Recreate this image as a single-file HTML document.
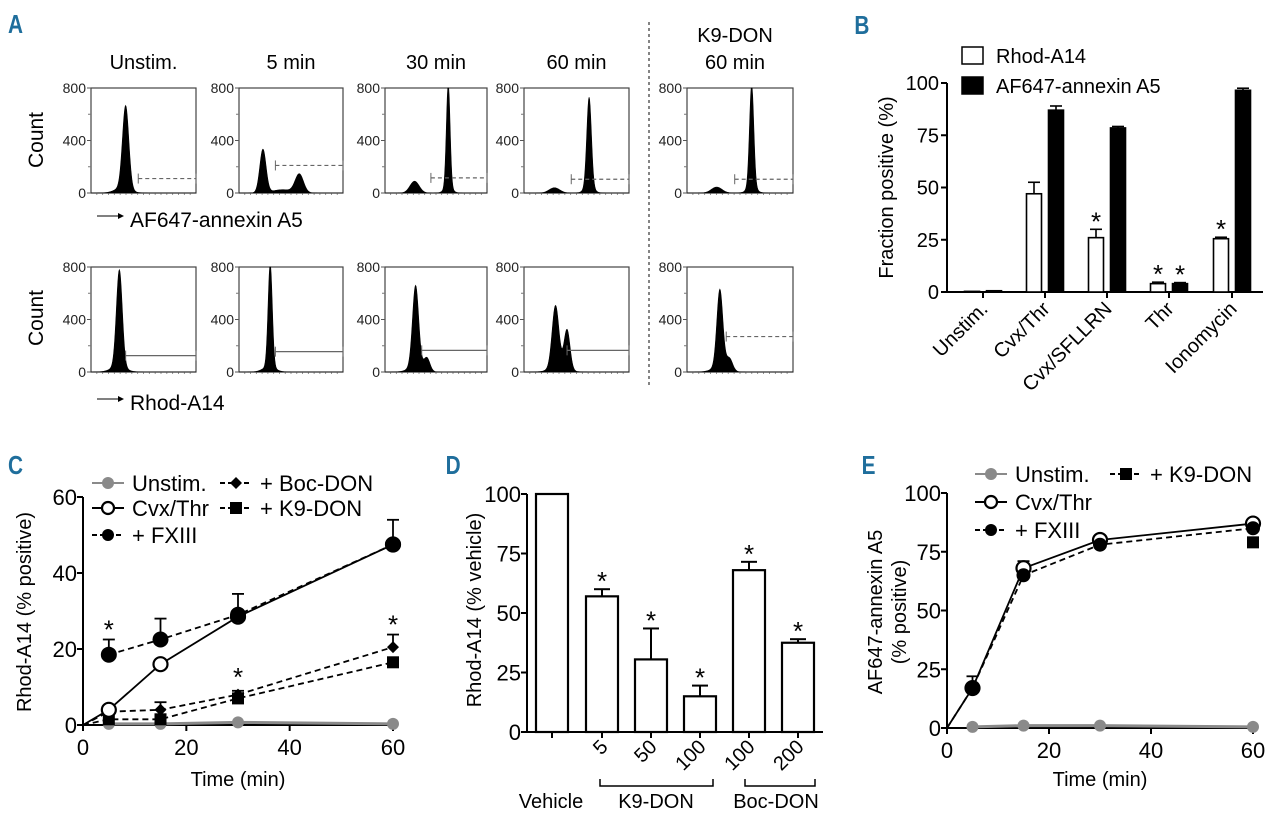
<!DOCTYPE html>
<html><head><meta charset="utf-8"><style>
body{margin:0;background:#fff;}
svg{display:block;font-family:"Liberation Sans",Arial,sans-serif;}
.pl{font-family:"Liberation Sans",sans-serif;font-weight:bold;fill:#1f6e9c;font-size:26px;}
</style></head><body>
<svg id="fig" width="1280" height="827" viewBox="0 0 1280 827" xmlns="http://www.w3.org/2000/svg">
<text class="pl" x="8" y="33" transform="scale(0.8,1) translate(2,0)">A</text>
<text class="pl" x="1068" y="34" transform="scale(0.8,1)">B</text>
<text class="pl" x="10" y="474" transform="scale(0.8,1)">C</text>
<text class="pl" x="557" y="474" transform="scale(0.8,1)">D</text>
<text class="pl" x="1077" y="474" transform="scale(0.8,1)">E</text>
<g id="gA"></g>
<g id="gB"></g>
<g id="gC"></g>
<g id="gD"></g>
<g id="gE"></g>
</svg>
<script>
// ---------- Panel A data (histogram peaks: [position fraction, count, width]) ----------
const histTitles = ["Unstim.","5 min","30 min","60 min"];
const histRow1Peaks = [
  [[0.33,630,0.03],[0.30,40,0.07]],
  [[0.23,330,0.03],[0.58,140,0.04],[0.42,25,0.1]],
  [[0.29,90,0.045],[0.62,800,0.018],[0.62,40,0.04]],
  [[0.29,40,0.05],[0.62,690,0.022],[0.62,40,0.045]],
  [[0.28,45,0.05],[0.61,790,0.02],[0.61,40,0.045]]
];
const histRow2Peaks = [
  [[0.27,740,0.028],[0.26,40,0.07]],
  [[0.30,790,0.02],[0.29,40,0.06]],
  [[0.30,620,0.03],[0.41,100,0.03],[0.30,40,0.07]],
  [[0.30,470,0.032],[0.41,300,0.028],[0.33,40,0.08]],
  [[0.31,590,0.028],[0.40,90,0.03],[0.31,40,0.07]]
];
const histRow1Gate = [[0.45,110],[0.35,210],[0.45,115],[0.45,105],[0.45,105]];
const histRow2Gate = [[0.33,125],[0.35,155],[0.36,165],[0.41,165],[0.37,270]];
const histYTicks = [0,400,800];

// ---------- Panel B data ----------
const bCats = ["Unstim.","Cvx/Thr","Cvx/SFLLRN","Thr","Ionomycin"];
const bRhod = [0.3,47,26,4,25.5];
const bRhodErr = [0,5.5,4,0.7,0.7];
const bAnx = [0.6,87,78.5,4,96.5];
const bAnxErr = [0,2,0.7,0.5,1];
const bRhodStar = [false,false,true,true,true];
const bAnxStar = [false,false,false,true,false];
const bTicks = [0,25,50,75,100];

// ---------- Panel C data ----------
const cTimes = [0,5,15,30,60];
const cUnstim = [null,0.3,0.3,0.7,0.3];
const cCvx = [0,4,16,28.5,47.5];
const cFXIII = [null,18.5,22.5,29,47.5];
const cFXIIIErr = [0,4,5.5,5.5,6.5];
const cBoc = [0,3.5,4,8,20.5];
const cBocErr = [0,0.5,2,1,3.3];
const cK9 = [0,1.5,1.5,7,16.5];
const cXTicks = [0,20,40,60];
const cYTicks = [0,20,40,60];

// ---------- Panel D data ----------
const dCats = ["","5","50","100","100","200"];
const dVals = [100,57,30.5,15,68,37.5];
const dErr = [0,3,13,4.5,3.5,1.5];
const dStar = [false,true,true,true,true,true];
const dTicks = [0,25,50,75,100];

// ---------- Panel E data ----------
const eTimes = [0,5,15,30,60];
const eUnstim = [null,0.5,1,1,0.5];
const eCvx = [0,17,68,80,87];
const eCvxErr = [0,5,3,1,1];
const eFXIII = [0,17,65,78,85];
const eK9 = [null,null,null,null,79];
const eXTicks = [0,20,40,60];
const eYTicks = [0,25,50,75,100];

const NS="http://www.w3.org/2000/svg";
function mk(parent,tag,attrs,txt){const e=document.createElementNS(NS,tag);for(const k in attrs)e.setAttribute(k,attrs[k]);if(txt!==undefined)e.textContent=txt;parent.appendChild(e);return e;}

// ===== Panel A =====
const gA=document.getElementById('gA');
const colX=[91,239,385,524,687];
const colW=[105,104,102,105,106];
const rowTop=[88,267], rowBot=[193,372];
histTitles.forEach((t,i)=>{
  const tt=mk(gA,'text',{x:colX[i]+colW[i]/2,y:69,'font-size':20,'text-anchor':'middle'},t);
  
  
});
{const t1=mk(gA,'text',{x:735,y:42,'font-size':20,'text-anchor':'middle'},'K9-DON');

const t2=mk(gA,'text',{x:735,y:69,'font-size':20,'text-anchor':'middle'},'60 min');
}
{const dl=mk(gA,'line',{x1:649,y1:22,x2:649,y2:385,stroke:'#333','stroke-width':1.2,'stroke-dasharray':'3,3'});
}
[140,318].forEach(cy=>{const c=mk(gA,'text',{x:0,y:0,'font-size':21,'text-anchor':'middle',transform:`translate(43,${cy}) rotate(-90)`},'Count');
});
[[216,'AF647-annexin A5',227],[399,'Rhod-A14',410]].forEach(([ay,lab,by])=>{
  const a=mk(gA,'line',{x1:97,y1:ay,x2:118,y2:ay,stroke:'#000','stroke-width':1});
  
  const p=mk(gA,'path',{d:`M118 ${ay-3} L124 ${ay} L118 ${ay+3}Z`,fill:'#000'});
  
  const t=mk(gA,'text',{x:130,y:by,'font-size':21},lab);
  
});
function hist(r,i,peaks,gate,dashed){
  const x0=colX[i],w=colW[i],top=rowTop[r],bot=rowBot[r];
  const ys=v=>bot-(v/800)*(bot-top);
  const g=mk(gA,'g',{});
  
  const fr=mk(g,'rect',{x:x0,y:top,width:w,height:bot-top,fill:'none',stroke:'#444','stroke-width':1.2});
  
  histYTicks.forEach(v=>{
    const l=mk(g,'line',{x1:x0-4,y1:ys(v),x2:x0,y2:ys(v),stroke:'#555'});
    
    const t=mk(g,'text',{x:x0-5,y:ys(v)+5,'font-size':14,'text-anchor':'end',fill:'#222'},v);
    
  });
  [200,600].forEach(v=>{mk(g,'line',{x1:x0-3,y1:ys(v),x2:x0,y2:ys(v),stroke:'#777'});});
  for(let k=1;k<18;k++){mk(g,'line',{x1:x0+k*w/18,y1:bot,x2:x0+k*w/18,y2:bot+2,stroke:'#777','stroke-width':0.8});}
  let d=`M${x0} ${bot}`;
  for(let s=0;s<=200;s++){const f=s/200;let v=0;peaks.forEach(([m,h,sd])=>{v+=h*Math.exp(-0.5*((f-m)/sd)**2);});
    d+=` L${(x0+f*w).toFixed(2)} ${ys(Math.min(v,800)).toFixed(2)}`;}
  d+=` L${x0+w} ${bot}Z`;
  const p=mk(g,'path',{d,fill:'#000',stroke:'#000','stroke-width':0.6});
  
  const gx=x0+gate[0]*w,gy=ys(gate[1]);
  const gl=mk(g,'line',{x1:gx,y1:gy,x2:x0+w,y2:gy,stroke:'#666','stroke-width':1.2,'stroke-dasharray':dashed?'4,3':'none'});
  
  mk(g,'line',{x1:gx,y1:gy-5,x2:gx,y2:gy+5,stroke:'#666'});
  mk(g,'line',{x1:x0+w,y1:gy-5,x2:x0+w,y2:gy+5,stroke:'#666'});
}
for(let i=0;i<5;i++){hist(0,i,histRow1Peaks[i],histRow1Gate[i],true);hist(1,i,histRow2Peaks[i],histRow2Gate[i],i===4);}

// ===== Panel B =====
const gB=document.getElementById('gB');
const bx0=947,bx1=1263,by0=292,by100=83;
const byS=v=>by0-(v/100)*(by0-by100);
const bGroupX=[983,1045,1107,1169,1232];
{const ay=mk(gB,'line',{x1:bx0,y1:by100,x2:bx0,y2:by0,stroke:'#000','stroke-width':2});

const ax=mk(gB,'line',{x1:bx0,y1:by0,x2:bx1,y2:by0,stroke:'#000','stroke-width':2});
}
bTicks.forEach(v=>{
  mk(gB,'line',{x1:bx0-6,y1:byS(v),x2:bx0,y2:byS(v),stroke:'#000','stroke-width':2});
  const t=mk(gB,'text',{x:bx0-8,y:byS(v)+7,'font-size':20,'text-anchor':'end'},v);
  
});
{const t=mk(gB,'text',{x:0,y:0,'font-size':20,'text-anchor':'middle',transform:`translate(893,${(by0+by100)/2}) rotate(-90)`},'Fraction positive (%)');
}
bCats.forEach((c,i)=>{
  const cx=bGroupX[i];
  mk(gB,'line',{x1:cx,y1:by0,x2:cx,y2:by0+6,stroke:'#000','stroke-width':2});
  const t=mk(gB,'text',{x:0,y:0,'font-size':20,'text-anchor':'end',transform:`translate(${cx+6},${by0+18}) rotate(-45)`},c);
  
  [[bRhod,bRhodErr,bRhodStar,-11,'#fff'],[bAnx,bAnxErr,bAnxStar,11,'#000']].forEach(([vals,err,star,off,fill])=>{
    const bx=cx+off-7.5,top=byS(vals[i]);
    const r=mk(gB,'rect',{x:bx,y:top,width:15,height:by0-top,fill,stroke:'#000','stroke-width':1.6});
    
    if(err[i]>0){const et=byS(vals[i]+err[i]);
      mk(gB,'line',{x1:cx+off,y1:top,x2:cx+off,y2:et,stroke:'#000','stroke-width':1.6});
      mk(gB,'line',{x1:cx+off-6,y1:et,x2:cx+off+6,y2:et,stroke:'#000','stroke-width':1.6});}
    if(star[i]){const s=mk(gB,'text',{x:cx+off,y:byS(vals[i]+err[i])+1,'font-size':26,'text-anchor':'middle'},'*');
      }
  });
});
[[47,'#fff','Rhod-A14'],[77,'#000','AF647-annexin A5']].forEach(([y,f,l])=>{
  const r=mk(gB,'rect',{x:962,y:y,width:21,height:17,fill:f,stroke:'#000','stroke-width':1.5});
  
  const t=mk(gB,'text',{x:996,y:y+16,'font-size':20},l);
  
});

// ===== Line chart helper =====
function lineAxes(g,x0,x1,y0,yTop,xMax,yMax,xt,yt){
  const xs=v=>x0+(v/xMax)*(x1-x0), ys=v=>y0-(v/yMax)*(y0-yTop);
  const ay=mk(g,'line',{x1:x0,y1:yTop,x2:x0,y2:y0,stroke:'#000','stroke-width':2});
  
  const ax=mk(g,'line',{x1:x0,y1:y0,x2:x1+2,y2:y0,stroke:'#000','stroke-width':2});
  
  yt.forEach(v=>{mk(g,'line',{x1:x0-6,y1:ys(v),x2:x0,y2:ys(v),stroke:'#000','stroke-width':2});
    const t=mk(g,'text',{x:x0-6,y:ys(v)+8,'font-size':22,'text-anchor':'end'},v);
    });
  xt.forEach(v=>{mk(g,'line',{x1:xs(v),y1:y0,x2:xs(v),y2:y0+6,stroke:'#000','stroke-width':2});
    const t=mk(g,'text',{x:xs(v),y:y0+30,'font-size':22,'text-anchor':'middle'},v);
    });
  return [xs,ys];
}
function series(g,xs,ys,times,vals,opt,name){
  const pts=[];times.forEach((t,i)=>{if(vals[i]!==null)pts.push([xs(t),ys(vals[i])]);});
  if(pts.length>1){const p=mk(g,'polyline',{points:pts.map(p=>p.join(',')).join(' '),fill:'none',stroke:opt.color||'#000','stroke-width':opt.sw||1.8,'stroke-dasharray':opt.dash?'6,4':'none'});
    }
  if(opt.err){times.forEach((t,i)=>{if(vals[i]!==null&&opt.err[i]>0&&t>0){const x=xs(t),yt=ys(vals[i]+opt.err[i]);
    mk(g,'line',{x1:x,y1:ys(vals[i]),x2:x,y2:yt,stroke:'#000','stroke-width':1.8});
    mk(g,'line',{x1:x-6,y1:yt,x2:x+6,y2:yt,stroke:'#000','stroke-width':1.8});}});}
  times.forEach((t,i)=>{if(vals[i]===null||t===0)return;const x=xs(t),y=ys(vals[i]);drawMarker(g,x,y,opt.marker,opt.color||'#000',opt.r||6,name);});
}
function drawMarker(g,x,y,m,color,r,name){
  let e;
  if(m==='open')e=mk(g,'circle',{cx:x,cy:y,r:r,fill:'#fff',stroke:'#000','stroke-width':2.2});
  else if(m==='circle')e=mk(g,'circle',{cx:x,cy:y,r:r,fill:color});
  else if(m==='square')e=mk(g,'rect',{x:x-r,y:y-r,width:2*r,height:2*r,fill:'#000'});
  else if(m==='diamond')e=mk(g,'path',{d:`M${x} ${y-r} L${x+r} ${y} L${x} ${y+r} L${x-r} ${y}Z`,fill:'#000'});
  
  
}
function legend(g,x,y,label,marker,color,dash){
  const l=mk(g,'line',{x1:x-16,y1:y,x2:x+16,y2:y,stroke:color,'stroke-width':2,'stroke-dasharray':dash?'5,3':'none'});
  
  drawMarker(g,x,y,marker,color,6,'legend');
  const t=mk(g,'text',{x:x+24,y:y+8,'font-size':22},label);
  
}

// ===== Panel C =====
const gC=document.getElementById('gC');
{const [xs,ys]=lineAxes(gC,83,393,725,497,60,60,cXTicks,cYTicks);
series(gC,xs,ys,cTimes,cUnstim,{marker:'circle',color:'#8a8a8a',sw:3,r:6},'unstim');
series(gC,xs,ys,cTimes,cK9,{marker:'square',dash:true,r:6},'k9-don');
series(gC,xs,ys,cTimes,cBoc,{marker:'diamond',dash:true,err:cBocErr,r:6},'boc-don');
series(gC,xs,ys,cTimes,cCvx,{marker:'open',r:7},'cvx-thr');
series(gC,xs,ys,cTimes,cFXIII,{marker:'circle',dash:true,err:cFXIIIErr,r:8},'fxiii');
[[5,cFXIII[1]+cFXIIIErr[1]],[30,cBoc[3]+cBocErr[3]+1],[60,cBoc[4]+cBocErr[4]]].forEach(([t,v])=>{
  const s=mk(gC,'text',{x:xs(t),y:ys(v)-1,'font-size':26,'text-anchor':'middle'},'*');
  });
const yt=mk(gC,'text',{x:0,y:0,'font-size':20,'text-anchor':'middle',transform:'translate(31,612) rotate(-90)'},'Rhod-A14 (% positive)');

const xt=mk(gC,'text',{x:238,y:786,'font-size':20,'text-anchor':'middle'},'Time (min)');

legend(gC,108,483,'Unstim.','circle','#8a8a8a',false);
legend(gC,108,508,'Cvx/Thr','open','#000',false);
legend(gC,108,535,'+ FXIII','circle','#000',true);
legend(gC,236,483,'+ Boc-DON','diamond','#000',true);
legend(gC,236,508,'+ K9-DON','square','#000',true);}

// ===== Panel D =====
const gD=document.getElementById('gD');
const dx0=527,dx1=823,dy0=732,dy100=494;
const dyS=v=>dy0-(v/100)*(dy0-dy100);
const dX=[552,602,651,700,749,798];
{const ay=mk(gD,'line',{x1:dx0,y1:dy100,x2:dx0,y2:dy0,stroke:'#000','stroke-width':2});

const ax=mk(gD,'line',{x1:dx0,y1:dy0,x2:dx1,y2:dy0,stroke:'#000','stroke-width':2});
}
dTicks.forEach(v=>{mk(gD,'line',{x1:dx0-6,y1:dyS(v),x2:dx0,y2:dyS(v),stroke:'#000','stroke-width':2});
  const t=mk(gD,'text',{x:dx0-6,y:dyS(v)+8,'font-size':22,'text-anchor':'end'},v);
  });
dCats.forEach((c,i)=>{
  const cx=dX[i],top=dyS(dVals[i]);
  mk(gD,'line',{x1:cx,y1:dy0,x2:cx,y2:dy0+6,stroke:'#000','stroke-width':2});
  const r=mk(gD,'rect',{x:cx-16,y:top,width:32,height:dy0-top,fill:'#fff',stroke:'#000','stroke-width':2.2});
  
  if(dErr[i]>0){const et=dyS(dVals[i]+dErr[i]);
    mk(gD,'line',{x1:cx,y1:top,x2:cx,y2:et,stroke:'#000','stroke-width':2});
    mk(gD,'line',{x1:cx-8,y1:et,x2:cx+8,y2:et,stroke:'#000','stroke-width':2});}
  if(dStar[i]){const s=mk(gD,'text',{x:cx,y:dyS(dVals[i]+dErr[i])+1,'font-size':26,'text-anchor':'middle'},'*');
    }
  if(c){const t=mk(gD,'text',{x:0,y:0,'font-size':20,'text-anchor':'end',transform:`translate(${cx+7},${dy0+16}) rotate(-45)`},c);
    }
});
[[600,713,'K9-DON',656],[745,815,'Boc-DON',776]].forEach(([a,b,l,tx])=>{
  const br=mk(gD,'path',{d:`M${a} ${779} V${786} H${b} V${779}`,fill:'none',stroke:'#000','stroke-width':1.5});
  
  const t=mk(gD,'text',{x:tx,y:808,'font-size':20,'text-anchor':'middle'},l);
  
});
{const t=mk(gD,'text',{x:551,y:808,'font-size':20,'text-anchor':'middle'},'Vehicle');

const yt=mk(gD,'text',{x:0,y:0,'font-size':20,'text-anchor':'middle',transform:'translate(481,610) rotate(-90)'},'Rhod-A14 (% vehicle)');
}

// ===== Panel E =====
const gE=document.getElementById('gE');
{const [xs,ys]=lineAxes(gE,947,1253,728,493,60,100,eXTicks,eYTicks);
series(gE,xs,ys,eTimes,eUnstim,{marker:'circle',color:'#8a8a8a',sw:3,r:6},'unstim');
series(gE,xs,ys,eTimes,eK9,{marker:'square',r:6},'k9-don');
series(gE,xs,ys,eTimes,eCvx,{marker:'open',err:eCvxErr,r:7},'cvx-thr');
series(gE,xs,ys,eTimes,eFXIII,{marker:'circle',dash:true,r:7},'fxiii');
const y1=mk(gE,'text',{x:0,y:0,'font-size':20,'text-anchor':'middle',transform:'translate(882,612) rotate(-90)'},'AF647-annexin A5');

const y2=mk(gE,'text',{x:0,y:0,'font-size':20,'text-anchor':'middle',transform:'translate(906,612) rotate(-90)'},'(% positive)');

const xt=mk(gE,'text',{x:1100,y:786,'font-size':20,'text-anchor':'middle'},'Time (min)');

legend(gE,991,474,'Unstim.','circle','#8a8a8a',false);
legend(gE,991,502,'Cvx/Thr','open','#000',false);
legend(gE,991,530,'+ FXIII','circle','#000',true);
legend(gE,1126,474,'+ K9-DON','square','#000',true);}
</script>
</body></html>
